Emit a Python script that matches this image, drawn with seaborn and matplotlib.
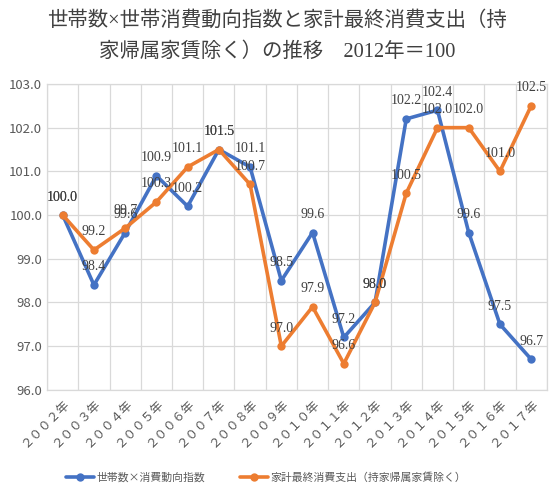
import matplotlib
matplotlib.use("Agg")
import matplotlib.pyplot as plt
import seaborn as sns
import pandas as pd
import numpy as np

years = ['２００２年', '２００３年', '２００４年', '２００５年', '２００６年', '２００７年',
         '２００８年', '２００９年', '２０１０年', '２０１１年', '２０１２年', '２０１３年',
         '２０１４年', '２０１５年', '２０１６年', '２０１７年']
series_names = ['世帯数×消費動向指数', '家計最終消費支出（持家帰属家賃除く）']
blue_vals = [100.0, 98.4, 99.6, 100.9, 100.2, 101.5, 101.1, 98.5, 99.6, 97.2, 98.0,
             102.2, 102.4, 99.6, 97.5, 96.7]
orange_vals = [100.0, 99.2, 99.7, 100.3, 101.1, 101.5, 100.7, 97.0, 97.9, 96.6, 98.0,
               100.5, 102.0, 102.0, 101.0, 102.5]
title_lines = ['世帯数×世帯消費動向指数と家計最終消費支出（持',
               '家帰属家賃除く）の推移　2012年＝100']
colors = ['#4472C4', '#ED7D31']

sns.set_theme(style='white')
plt.rcParams['font.family'] = ['Noto Sans CJK JP', 'DejaVu Sans']

df = pd.DataFrame({
    'year': years * 2,
    'value': blue_vals + orange_vals,
    'series': [series_names[0]] * len(years) + [series_names[1]] * len(years),
})

fig = plt.figure(figsize=(5.54, 4.91), dpi=100)
ax = fig.add_axes([0.085, 0.206, 0.902, 0.623])

sns.lineplot(data=df, x='year', y='value', hue='series', palette=colors,
             marker='o', markersize=6, markeredgewidth=0, linewidth=2.6,
             sort=False, ax=ax, zorder=3)

ax.set_xlim(-0.5, len(years) - 0.5)
ax.set_ylim(96, 103)
ax.set_yticks(np.arange(96, 103.01, 1.0))
ax.set_yticklabels([f'{v:.1f}' for v in np.arange(96, 103.01, 1.0)],
                   fontsize=9.5, color='#595959')
ax.set_xticks(range(len(years)))
ax.set_xticklabels(years, rotation=45, ha='right', rotation_mode='anchor',
                   fontsize=9, color='#595959')
ax.set_xticks(np.arange(-0.5, len(years), 1.0), minor=True)
ax.tick_params(axis='both', which='both', length=0)
ax.tick_params(axis='x', pad=5)
ax.grid(axis='y', which='major', color='#D9D9D9', linewidth=0.9)
ax.grid(axis='x', which='minor', color='#D9D9D9', linewidth=0.9)
ax.grid(axis='x', which='major', visible=False)
for s in ax.spines.values():
    s.set_color('#D9D9D9')
    s.set_linewidth(0.9)
ax.set_xlabel('')
ax.set_ylabel('')

label_font = ['Liberation Serif', 'Noto Sans CJK JP']
for vals in (blue_vals, orange_vals):
    for i, v in enumerate(vals):
        ax.annotate(f'{v:.1f}', (i, v), xytext=(0, 13), textcoords='offset points',
                    ha='center', va='center', fontsize=10, color='#404040',
                    family=label_font, zorder=4)

handles, labels = ax.get_legend_handles_labels()
ax.legend_.remove()
fig.legend(handles, labels, loc='center', bbox_to_anchor=(0.48, 0.028), ncol=2,
           frameon=False, fontsize=7.8, handlelength=2.6, columnspacing=3.2,
           handletextpad=0.2, labelcolor='#595959')

for yy, line in zip([0.958, 0.893], title_lines):
    fig.text(0.5, yy, line, ha='center', va='center', fontsize=14.7, color='#404040',
             family=['Liberation Serif', 'Noto Sans CJK JP'])

fig.savefig('out.png', dpi=100, facecolor='white')
